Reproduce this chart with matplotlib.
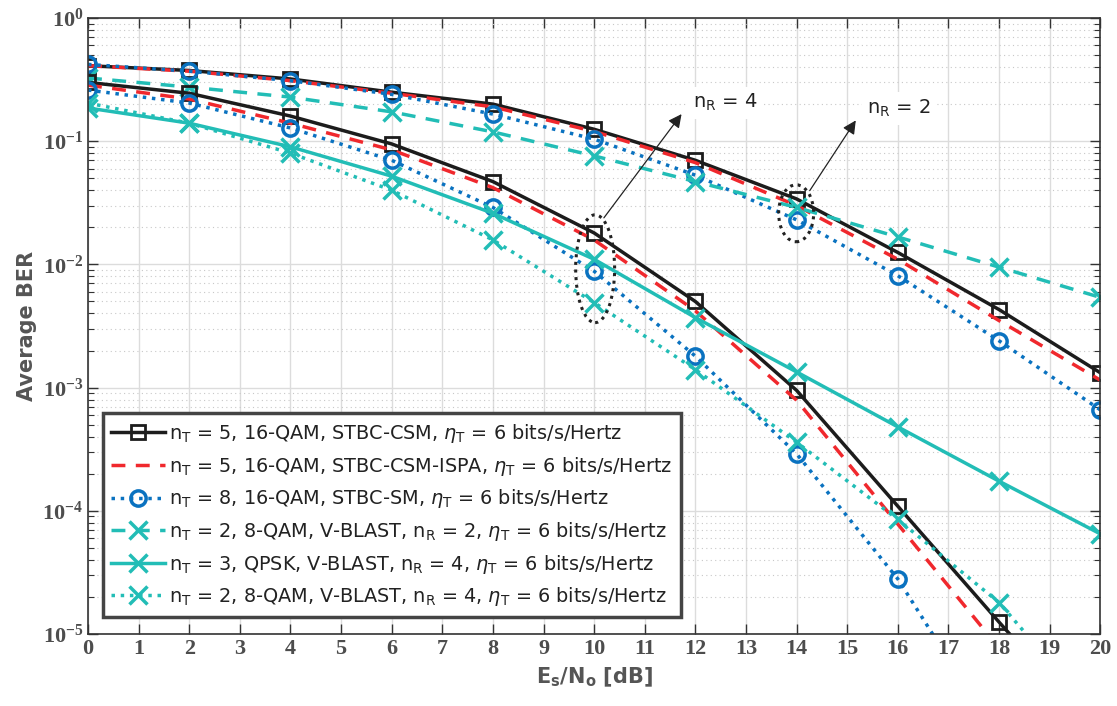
import numpy as np
import matplotlib
matplotlib.use("Agg")
import matplotlib.pyplot as plt
from matplotlib.patches import Ellipse
from matplotlib.ticker import LogLocator, MultipleLocator

# ------------------------------
#  data
# ------------------------------
snr = [0, 2, 4, 6, 8, 10, 12, 14, 16, 18, 20]

# n_R = 2 group
csm_r2 = [0.41, 0.375, 0.32, 0.25, 0.20, 0.125, 0.070, 0.034, 0.0125, 0.0043, 0.00132]
ispa_r2 = [0.41, 0.37, 0.31, 0.245, 0.19, 0.12, 0.067, 0.030, 0.011, 0.0035, 0.00115]
sm_r2 = [0.42, 0.37, 0.31, 0.24, 0.166, 0.104, 0.053, 0.023, 0.0081, 0.0024, 0.00066]
vb_8qam_r2 = [0.326, 0.275, 0.228, 0.173, 0.119, 0.076, 0.047, 0.029, 0.0167, 0.0095, 0.0054]

# n_R = 4 group
csm_r4 = [0.30, 0.245, 0.16, 0.095, 0.047, 0.018, 0.0050, 0.00095, 0.000109, 0.0000125, 0.0000015]
ispa_r4 = [0.285, 0.22, 0.14, 0.085, 0.042, 0.0158, 0.0042, 0.00079, 0.000078, 0.0000077, 0.0000008]
sm_r4 = [0.26, 0.204, 0.128, 0.070, 0.029, 0.0088, 0.0018, 0.00029, 0.000028, 0.0000014, 0.0000001]
vb_qpsk_r4 = [0.186, 0.14, 0.09, 0.052, 0.026, 0.011, 0.0037, 0.00134, 0.00048, 0.000174, 0.000065]
vb_8qam_r4 = [0.204, 0.14, 0.08, 0.040, 0.0158, 0.0049, 0.0014, 0.00036, 0.000085, 0.000018, 0.000002]

labels = [
    r"n$_\mathdefault{T}$ = 5, 16-QAM, STBC-CSM, $\eta_\mathdefault{T}$ = 6 bits/s/Hertz",
    r"n$_\mathdefault{T}$ = 5, 16-QAM, STBC-CSM-ISPA, $\eta_\mathdefault{T}$ = 6 bits/s/Hertz",
    r"n$_\mathdefault{T}$ = 8, 16-QAM, STBC-SM, $\eta_\mathdefault{T}$ = 6 bits/s/Hertz",
    r"n$_\mathdefault{T}$ = 2, 8-QAM, V-BLAST, n$_\mathdefault{R}$ = 2, $\eta_\mathdefault{T}$ = 6 bits/s/Hertz",
    r"n$_\mathdefault{T}$ = 3, QPSK, V-BLAST, n$_\mathdefault{R}$ = 4, $\eta_\mathdefault{T}$ = 6 bits/s/Hertz",
    r"n$_\mathdefault{T}$ = 2, 8-QAM, V-BLAST, n$_\mathdefault{R}$ = 4, $\eta_\mathdefault{T}$ = 6 bits/s/Hertz",
]

# ------------------------------
#  styles
# ------------------------------
black = "#1c1c1c"
red = "#f0282d"
blue = "#0a72c0"
cyan = "#22bdb6"

plt.rcParams["font.family"] = ["DejaVu Sans"]
plt.rcParams["mathtext.fontset"] = "dejavusans"

fig = plt.figure(figsize=(11.17, 7.06), dpi=100)
ax = fig.add_axes([0.0788, 0.102, 0.9062, 0.8725])

sq = dict(marker="s", markersize=10, markerfacecolor="none", markeredgewidth=2)
ci = dict(marker="o", markersize=11, markerfacecolor="none", markeredgewidth=2.5)
cr = dict(marker="x", markersize=13, markeredgewidth=2.5)

h1, = ax.plot(snr, csm_r2, "-", color=black, lw=2.5, markeredgecolor=black, **sq)
h2, = ax.plot(snr, ispa_r2, "--", color=red, lw=2.5, dashes=(4, 3))
h3, = ax.plot(snr, sm_r2, ":", color=blue, lw=2.5, markeredgecolor=blue, **ci)
h4, = ax.plot(snr, vb_8qam_r2, "--", color=cyan, lw=2.5, dashes=(4, 3), **cr)

ax.plot(snr, csm_r4, "-", color=black, lw=2.5, markeredgecolor=black, **sq)
ax.plot(snr, ispa_r4, "--", color=red, lw=2.5, dashes=(4, 3))
ax.plot(snr, sm_r4, ":", color=blue, lw=2.5, markeredgecolor=blue, **ci)
h5, = ax.plot(snr, vb_qpsk_r4, "-", color=cyan, lw=2.5, **cr)
h6, = ax.plot(snr, vb_8qam_r4, ":", color=cyan, lw=2.5, **cr)

ax.set_yscale("log")
ax.set_xlim(0, 20)
ax.set_ylim(1e-5, 1)
ax.xaxis.set_major_locator(MultipleLocator(1))
ax.yaxis.set_major_locator(LogLocator(base=10, numticks=10))
ax.yaxis.set_minor_locator(LogLocator(base=10, subs=np.arange(2, 10), numticks=20))

# MATLAB-like grid and ticks
ax.grid(True, which="major", color="#dcdcdc", lw=1.0)
ax.grid(True, which="minor", axis="y", color="#c8c8c8", lw=0.8, linestyle=(0, (1, 3)))
ax.set_axisbelow(True)
ax.tick_params(which="both", direction="in", top=True, right=True, color="#333333")
ax.tick_params(which="major", length=7, width=1)
ax.tick_params(which="minor", length=4, width=0.8)
for s in ax.spines.values():
    s.set_color("#333333")
    s.set_linewidth(1.2)

for lab in ax.get_xticklabels() + ax.get_yticklabels():
    lab.set_fontfamily("Liberation Serif")
    lab.set_fontweight("bold")
    lab.set_fontsize(16)
    lab.set_color("#4d4d4d")

ax.set_xlabel(r"E$_\mathdefault{s}$/N$_\mathdefault{o}$ [dB]", fontsize=15, fontweight="bold",
              color="#555555", labelpad=5)
ax.set_ylabel("Average BER", fontsize=15, fontweight="bold", color="#555555", labelpad=4)

# ellipses + arrows (n_R annotations)
ax.add_patch(Ellipse((0.501, 0.593), 0.0385, 0.175, transform=ax.transAxes, fill=False,
                     edgecolor="#222222", lw=2.2, linestyle=(0, (1, 1.5)), zorder=5))
ax.add_patch(Ellipse((0.6996, 0.683), 0.0346, 0.0925, transform=ax.transAxes, fill=False,
                     edgecolor="#222222", lw=2.2, linestyle=(0, (1, 1.5)), zorder=5))

ax.annotate("", xy=(11.76, 0.173), xytext=(10.16, 0.0229),
            arrowprops=dict(arrowstyle="-|>", color="#222222", lw=0.9, mutation_scale=20))
ax.annotate("", xy=(15.2, 0.154), xytext=(14.23, 0.038),
            arrowprops=dict(arrowstyle="-|>", color="#222222", lw=0.9, mutation_scale=20))
ax.text(11.95, 0.205, r"n$_\mathdefault{R}$ = 4", fontsize=14, color="#222222", va="center",
        bbox=dict(facecolor="white", edgecolor="none", pad=4))
ax.text(15.4, 0.185, r"n$_\mathdefault{R}$ = 2", fontsize=14, color="#222222", va="center",
        bbox=dict(facecolor="white", edgecolor="none", pad=4))

leg = ax.legend([h1, h2, h3, h4, h5, h6], labels, loc="lower left",
                bbox_to_anchor=(0.005, 0.012), fontsize=13.9, handlelength=2.8,
                handletextpad=0.2, labelspacing=0.5, borderpad=0.45,
                fancybox=False, framealpha=1, edgecolor="#444444")
leg.get_frame().set_linewidth(2.5)
for t in leg.get_texts():
    t.set_color("#222222")

fig.savefig("out.png", dpi=100)
